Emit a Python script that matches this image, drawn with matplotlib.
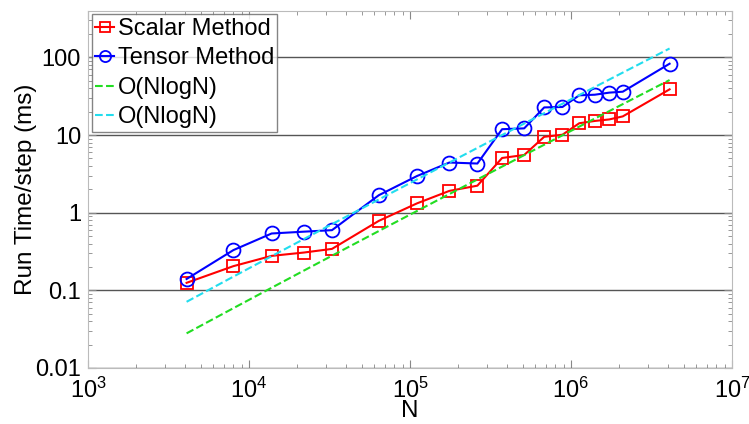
import numpy as np
import matplotlib
matplotlib.use("Agg")
import matplotlib.pyplot as plt

plt.rcParams['font.family'] = ['Liberation Sans', 'DejaVu Sans']
plt.rcParams['mathtext.fontset'] = 'custom'
plt.rcParams['mathtext.rm'] = 'Liberation Sans'
plt.rcParams['mathtext.it'] = 'Liberation Sans:italic'
plt.rcParams['mathtext.bf'] = 'Liberation Sans:bold'

# grid sizes n, N = n^3
n_side = [16, 20, 24, 28, 32, 40, 48, 56, 64, 72, 80, 88, 96, 104, 112, 120, 128, 160]
N = np.array(n_side, dtype=float) ** 3

# run time per step (ms)
scalar_ms = [0.125, 0.205, 0.278, 0.307, 0.342, 0.785, 1.32, 1.91, 2.23, 5.07,
             5.54, 9.5, 10.1, 14.2, 15.2, 15.9, 17.4, 38.8]
tensor_ms = [0.14, 0.33, 0.54, 0.57, 0.596, 1.68, 2.97, 4.43, 4.3, 11.9,
             12.2, 22.7, 23.0, 32.5, 33.1, 35.2, 36.2, 83.0]

# scale of the two O(NlogN) guide lines
green_scale = 8.2e-7
cyan_scale = 2.09e-6

fig = plt.figure(figsize=(7.49, 4.24), dpi=100)
ax = fig.add_axes([0.1175, 0.1321, 0.8598, 0.8427])

ax.plot(N, scalar_ms, '-s', color='red', lw=1.5, ms=9, mfc='none', mew=1.3,
        label='Scalar Method')
ax.plot(N, tensor_ms, '-o', color='blue', lw=1.5, ms=10, mfc='none', mew=1.3,
        label='Tensor Method')
ax.plot(N, green_scale * N * np.log(N), '--', color='#22dd22', lw=1.5,
        label='O(NlogN)')
ax.plot(N, cyan_scale * N * np.log(N), '--', color='#22ddee', lw=1.5,
        label='O(NlogN)')

ax.set_xscale('log')
ax.set_yscale('log')
ax.set_xlim(1e3, 1e7)
ax.set_ylim(0.01, 400)
ax.set_yticks([0.01, 0.1, 1, 10, 100])
ax.set_yticklabels(['0.01', '0.1', '1', '10', '100'])
ax.yaxis.grid(True, which='major', color='#555555', lw=1)
ax.set_axisbelow(True)

for s in ax.spines.values():
    s.set_color('#bbbbbb')
ax.tick_params(which='both', direction='in', top=True, right=True,
               colors='#888888', labelcolor='black', labelsize=17)
ax.tick_params(which='major', length=6)
ax.tick_params(which='minor', length=3)
ax.tick_params(axis='x', which='major', pad=7)
ax.tick_params(axis='y', which='major', pad=5)

ax.set_xlabel('N', fontsize=17.5, labelpad=-2)
ax.set_ylabel('Run Time/step (ms)', fontsize=17.5, labelpad=-1)

leg = ax.legend(loc='upper left', fontsize=17, frameon=True, fancybox=False,
                borderaxespad=0.15, handlelength=0.8, handletextpad=0.15,
                labelspacing=0.32, borderpad=0.15, markerscale=0.8)
leg.get_frame().set_edgecolor('#666666')
leg.get_frame().set_linewidth(1)

fig.savefig('out.png', dpi=100)
